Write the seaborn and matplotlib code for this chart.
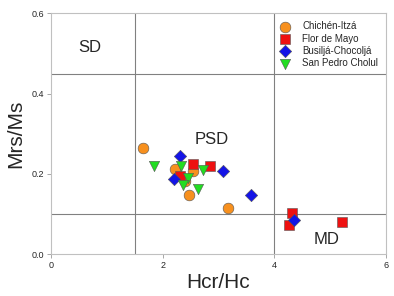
import numpy as np
import pandas as pd
import matplotlib
matplotlib.use('Agg')
import matplotlib.pyplot as plt
import seaborn as sns

sns.set_style("white")
plt.rcParams['font.family'] = ['Liberation Sans', 'DejaVu Sans']

# datos (Hcr/Hc, Mrs/Ms)
sites = ['Chichén-Itzá', 'Flor de Mayo', 'Busiljá-Chocoljá', 'San Pedro Cholul']

chichen_x = [1.65, 2.23, 2.54, 2.40, 2.47, 3.17]
chichen_y = [0.264, 0.213, 0.207, 0.183, 0.148, 0.116]

flor_x = [2.54, 2.84, 2.32, 4.32, 4.26, 5.21]
flor_y = [0.224, 0.221, 0.196, 0.102, 0.073, 0.081]

busilja_x = [2.32, 2.20, 3.08, 3.58, 4.36]
busilja_y = [0.245, 0.187, 0.208, 0.147, 0.085]

cholul_x = [1.85, 2.33, 2.72, 2.45, 2.36, 2.63]
cholul_y = [0.221, 0.221, 0.210, 0.189, 0.173, 0.162]

df = pd.concat([
    pd.DataFrame({'Hcr/Hc': chichen_x, 'Mrs/Ms': chichen_y, 'site': sites[0]}),
    pd.DataFrame({'Hcr/Hc': flor_x, 'Mrs/Ms': flor_y, 'site': sites[1]}),
    pd.DataFrame({'Hcr/Hc': busilja_x, 'Mrs/Ms': busilja_y, 'site': sites[2]}),
    pd.DataFrame({'Hcr/Hc': cholul_x, 'Mrs/Ms': cholul_y, 'site': sites[3]}),
], ignore_index=True)

palette = {sites[0]: '#F7901E', sites[1]: '#EE1111', sites[2]: '#1414E6', sites[3]: '#22DD22'}
markers = {sites[0]: 'o', sites[1]: 's', sites[2]: 'D', sites[3]: 'v'}
sizes = {sites[0]: 60, sites[1]: 42, sites[2]: 40, sites[3]: 55}

fig = plt.figure(figsize=(3.94, 2.96), dpi=100)
ax = fig.add_axes([0.129, 0.141, 0.851, 0.814])

# líneas de dominio
for xv in [1.5, 4.0]:
    ax.axvline(xv, color='#808080', lw=0.8, zorder=1)
for yv in [0.1, 0.45]:
    ax.axhline(yv, color='#808080', lw=0.8, zorder=1)

for s in sites:
    sub = df[df['site'] == s]
    sns.scatterplot(data=sub, x='Hcr/Hc', y='Mrs/Ms', ax=ax, color=palette[s],
                    marker=markers[s], s=sizes[s], edgecolor='#555555',
                    linewidth=0.4, label=s, zorder=3)

ax.text(0.70, 0.514, 'SD', fontsize=12, ha='center', va='center')
ax.text(2.87, 0.286, 'PSD', fontsize=12, ha='center', va='center')
ax.text(4.94, 0.038, 'MD', fontsize=12, ha='center', va='center')

ax.set_xlim(0, 6)
ax.set_ylim(0, 0.6)
ax.set_xticks([0, 2, 4, 6])
ax.set_yticks([0.0, 0.2, 0.4, 0.6])
ax.yaxis.set_major_formatter(matplotlib.ticker.FormatStrFormatter('%.1f'))
ax.tick_params(labelsize=6.5, length=3, width=0.6, color='#999999', direction='out',
               bottom=True, left=True, pad=2)
for sp in ax.spines.values():
    sp.set_color('#c0c0c0')
    sp.set_linewidth(0.8)

ax.set_xlabel('Hcr/Hc', fontsize=15, labelpad=2)
ax.set_ylabel('Mrs/Ms', fontsize=15, labelpad=4)

ax.legend(loc='upper right', bbox_to_anchor=(1.0, 1.0), frameon=False, fontsize=7,
          handletextpad=0.8, labelspacing=0.25, borderaxespad=0.4)

plt.savefig('out.png', dpi=100)
plt.close()
